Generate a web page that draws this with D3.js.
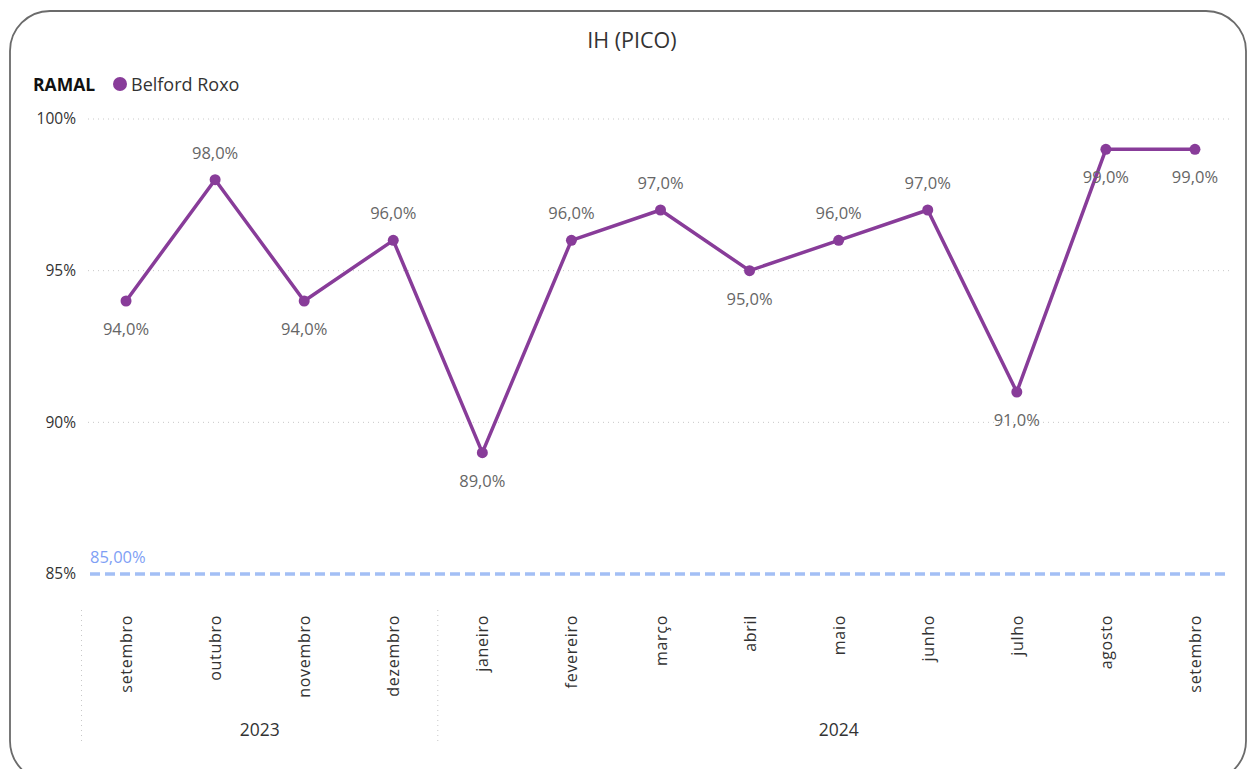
<!DOCTYPE html>
<html>
<head>
<meta charset="utf-8">
<script src="https://cdn.jsdelivr.net/npm/d3@7"></script>
<style>
  html, body { margin: 0; padding: 0; background: #fff; }
  svg { display: block; font-family: "Open Sans", "Noto Sans", sans-serif; }
</style>
</head>
<body>
<svg id="chart" width="1248" height="769"></svg>
<script>
// Monthly IH (peak) for the Belford Roxo branch
const months = ["setembro","outubro","novembro","dezembro","janeiro","fevereiro","março","abril","maio","junho","julho","agosto","setembro"];
const years  = ["2023","2023","2023","2023","2024","2024","2024","2024","2024","2024","2024","2024","2024"];
const values = [94, 98, 94, 96, 89, 96, 97, 95, 96, 97, 91, 99, 99];
const labelBelow = [true, false, true, false, true, false, false, true, false, false, true, true, true];
const yTicks = [85, 90, 95, 100];
const target = 85;

const svg = d3.select("#chart");

// card frame
svg.append("rect")
  .attr("x", 10).attr("y", 11).attr("width", 1236).attr("height", 770)
  .attr("rx", 40).attr("ry", 40)
  .attr("fill", "#fff").attr("stroke", "#6b6b6b").attr("stroke-width", 1.8);

svg.append("text")
  .attr("x", 632).attr("y", 48).attr("text-anchor", "middle")
  .attr("font-size", 21.5).attr("fill", "#333").text("IH (PICO)");

// legend
svg.append("text").attr("x", 33).attr("y", 90.5)
  .attr("font-size", 17.5).attr("font-weight", "bold").attr("fill", "#111").text("RAMAL");
svg.append("circle").attr("cx", 120).attr("cy", 84).attr("r", 7).attr("fill", "#883C99");
svg.append("text").attr("x", 131).attr("y", 90.5)
  .attr("font-size", 18).attr("fill", "#333").text("Belford Roxo");

const idx = d3.range(months.length);
const x = d3.scaleBand().domain(idx).range([81.5, 1239.5]).padding(0);
const cx = i => x(i) + x.bandwidth() / 2;
const y = d3.scaleLinear().domain([85, 100]).range([574, 119]);

// horizontal gridlines
svg.append("g").selectAll("line").data(yTicks.filter(t => t !== target)).join("line")
  .attr("x1", 88).attr("x2", 1230)
  .attr("y1", d => y(d)).attr("y2", d => y(d))
  .attr("stroke", "#c8c8c8").attr("stroke-width", 1).attr("stroke-dasharray", "1,4");

// y axis labels
const yAxis = d3.axisLeft(y).tickValues(yTicks).tickFormat(d => d + "%").tickSize(0).tickPadding(0);
const gy = svg.append("g").attr("transform", "translate(76,0)").call(yAxis);
gy.select(".domain").remove();
gy.selectAll("text").attr("font-size", 15.5).attr("fill", "#333")
  .attr("font-family", "\"Open Sans\", \"Noto Sans\", sans-serif");

// target line
svg.append("line")
  .attr("x1", 90).attr("x2", 1230).attr("y1", y(target)).attr("y2", y(target))
  .attr("stroke", "#a3bff5").attr("stroke-width", 3.5).attr("stroke-dasharray", "10,5");
svg.append("text").attr("x", 90).attr("y", y(target) - 11)
  .attr("font-size", 16.5).attr("fill", "#7f9ff5").text("85,00%");

// series line
svg.append("path")
  .datum(idx)
  .attr("fill", "none").attr("stroke", "#883C99").attr("stroke-width", 3.5)
  .attr("stroke-linejoin", "round")
  .attr("d", d3.line().x(i => cx(i)).y(i => y(values[i])));

svg.append("g").selectAll("circle").data(idx).join("circle")
  .attr("cx", i => cx(i)).attr("cy", i => y(values[i])).attr("r", 5.5)
  .attr("fill", "#883C99");

// data labels
svg.append("g").selectAll("text").data(idx).join("text")
  .attr("x", i => cx(i))
  .attr("y", i => y(values[i]) + (labelBelow[i] ? 34 : -21))
  .attr("text-anchor", "middle").attr("font-size", 16.5).attr("fill", "#666")
  .text(i => values[i].toFixed(1).replace(".", ",") + "%");

// month labels (rotated)
svg.append("g").selectAll("text").data(idx).join("text")
  .attr("transform", i => `translate(${cx(i) + 6},615) rotate(-90)`)
  .attr("text-anchor", "end").attr("font-size", 16).attr("letter-spacing", 0.7)
  .attr("fill", "#333")
  .text(i => months[i]);

// year groups
const yearNames = Array.from(new Set(years));
const groups = yearNames.map(yr => {
  const ids = idx.filter(i => years[i] === yr);
  return { yr, x0: x(ids[0]), x1: x(ids[ids.length - 1]) + x.bandwidth() };
});
svg.append("g").selectAll("line").data(groups).join("line")
  .attr("x1", d => d.x0).attr("x2", d => d.x0).attr("y1", 610).attr("y2", 745)
  .attr("stroke", "#c8c8c8").attr("stroke-width", 1).attr("stroke-dasharray", "1,4");
svg.append("g").selectAll("text").data(groups).join("text")
  .attr("x", d => (d.x0 + d.x1) / 2).attr("y", 736)
  .attr("text-anchor", "middle").attr("font-size", 17.5).attr("fill", "#333")
  .text(d => d.yr);
</script>
</body>
</html>
